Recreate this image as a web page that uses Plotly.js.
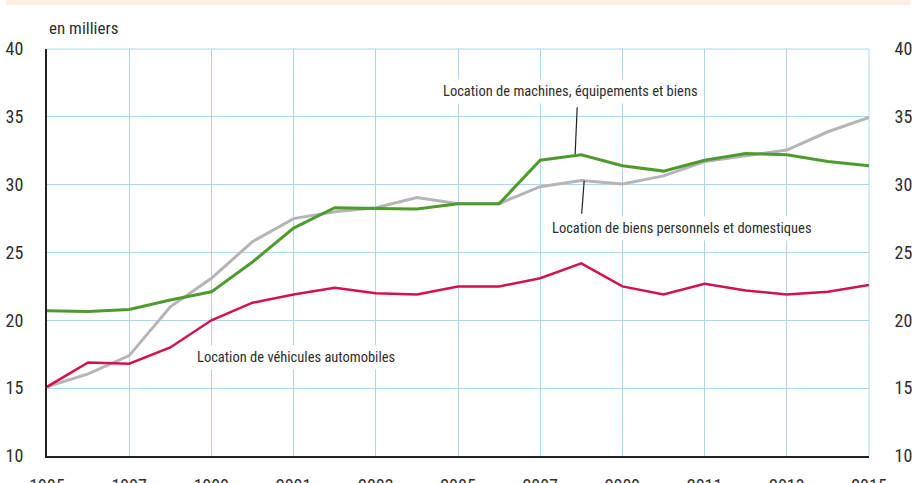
<!DOCTYPE html>
<html>
<head>
<meta charset="utf-8">
<script src="https://cdn.plot.ly/plotly-3.0.1.min.js"></script>
<style>html,body{margin:0;padding:0;background:#fff;}#chart{width:915px;height:483px;}</style>
</head>
<body>
<div id="chart"></div>
<script>
const years = [1995,1996,1997,1998,1999,2000,2001,2002,2003,2004,2005,2006,2007,2008,2009,2010,2011,2012,2013,2014,2015];
const vehicules = [15.1,16.9,16.8,18.0,20.0,21.3,21.9,22.4,22.0,21.9,22.5,22.5,23.1,24.2,22.5,21.9,22.7,22.2,21.9,22.1,22.6];
const machines = [20.7,20.65,20.8,21.5,22.1,24.3,26.8,28.3,28.25,28.2,28.6,28.6,31.8,32.2,31.4,31.0,31.8,32.3,32.2,31.7,31.4];
const personnels = [15.1,16.05,17.4,21.0,23.1,25.8,27.5,28.0,28.3,29.05,28.6,28.6,29.85,30.3,30.05,30.65,31.7,32.1,32.55,33.9,34.95];
const xTicks = [1995,1997,1999,2001,2003,2005,2007,2009,2011,2013,2015];
const yTicks = [10,15,20,25,30,35,40];

const FONT = '"Roboto Condensed", "Liberation Sans", Arial, sans-serif';
const txt = '#2e2e2e';
const grid = '#acd5ef';

const traces = [
  {x: years, y: personnels, mode: 'lines', line: {color: '#b5b5b7', width: 3}, hoverinfo: 'skip'},
  {x: years, y: machines, mode: 'lines', line: {color: '#4f9a2c', width: 3}, hoverinfo: 'skip'},
  {x: years, y: vehicules, mode: 'lines', line: {color: '#d2124e', width: 2.5}, hoverinfo: 'skip'},
  {x: [1995], y: [10], yaxis: 'y2', mode: 'markers', marker: {opacity: 0}, hoverinfo: 'skip'}
];

const yBase = {
  range: [10, 40], tickvals: yTicks, ticktext: yTicks.map(String),
  tickfont: {family: FONT, size: 18, color: txt},
  ticks: 'outside', tickcolor: 'rgba(0,0,0,0)',
  fixedrange: true, zeroline: false
};

const layout = {
  width: 915, height: 483,
  margin: {l: 47, r: 46, t: 49, b: 27},
  paper_bgcolor: '#ffffff', plot_bgcolor: '#ffffff',
  showlegend: false,
  font: {family: FONT, color: txt},
  xaxis: {
    range: [1995, 2015], tickvals: xTicks, ticktext: xTicks.map(String),
    tickfont: {family: FONT, size: 18, color: txt},
    ticks: 'outside', ticklen: 12, tickcolor: 'rgba(0,0,0,0)',
    showgrid: true, gridcolor: grid, gridwidth: 1,
    showline: true, linecolor: '#222222', linewidth: 2,
    zeroline: false, fixedrange: true
  },
  yaxis: Object.assign({}, yBase, {
    ticklen: 18,
    showgrid: true, gridcolor: grid, gridwidth: 1,
    showline: true, linecolor: '#222222', linewidth: 2
  }),
  yaxis2: Object.assign({}, yBase, {
    ticklen: 21,
    overlaying: 'y', side: 'right', showgrid: false, showline: false
  }),
  shapes: [
    {type: 'rect', xref: 'paper', yref: 'paper', x0: -0.05, x1: 1.0499, y0: 1.108, y1: 1.125, fillcolor: '#fdeee2', line: {width: 0}, layer: 'below'},
    {type: 'line', xref: 'paper', yref: 'paper', x0: 0, x1: 1, y0: 1, y1: 1, line: {color: grid, width: 1}, layer: 'below'},
    {type: 'line', xref: 'paper', yref: 'paper', x0: 1, x1: 1, y0: 0, y1: 1, line: {color: grid, width: 1}, layer: 'below'},
    {type: 'line', xref: 'x', yref: 'y', x0: 2007.9, y0: 35.7, x1: 2007.85, y1: 32.25, line: {color: '#222222', width: 1.2}},
    {type: 'line', xref: 'x', yref: 'y', x0: 2008.07, y0: 30.3, x1: 2008.01, y1: 27.85, line: {color: '#222222', width: 1.2}}
  ],
  annotations: [
    {xref: 'paper', yref: 'paper', x: 0, y: 1.022, xanchor: 'left', yanchor: 'bottom', showarrow: false,
     text: 'en milliers', font: {family: FONT, size: 17, color: txt}},
    {xref: 'x', yref: 'y', x: 2007.73, y: 36.85, showarrow: false, bgcolor: '#ffffff', borderpad: 3,
     text: 'Location de machines, équipements et biens', font: {family: FONT, size: 14.5, color: txt}},
    {xref: 'x', yref: 'y', x: 2010.46, y: 26.8, showarrow: false, bgcolor: '#ffffff', borderpad: 3,
     text: 'Location de biens personnels et domestiques', font: {family: FONT, size: 14.5, color: txt}},
    {xref: 'x', yref: 'y', x: 2001.06, y: 17.25, showarrow: false, bgcolor: '#ffffff', borderpad: 3,
     text: 'Location de véhicules automobiles', font: {family: FONT, size: 14.5, color: txt}}
  ]
};

Plotly.newPlot('chart', traces, layout, {staticPlot: true, displayModeBar: false});
</script>
</body>
</html>
